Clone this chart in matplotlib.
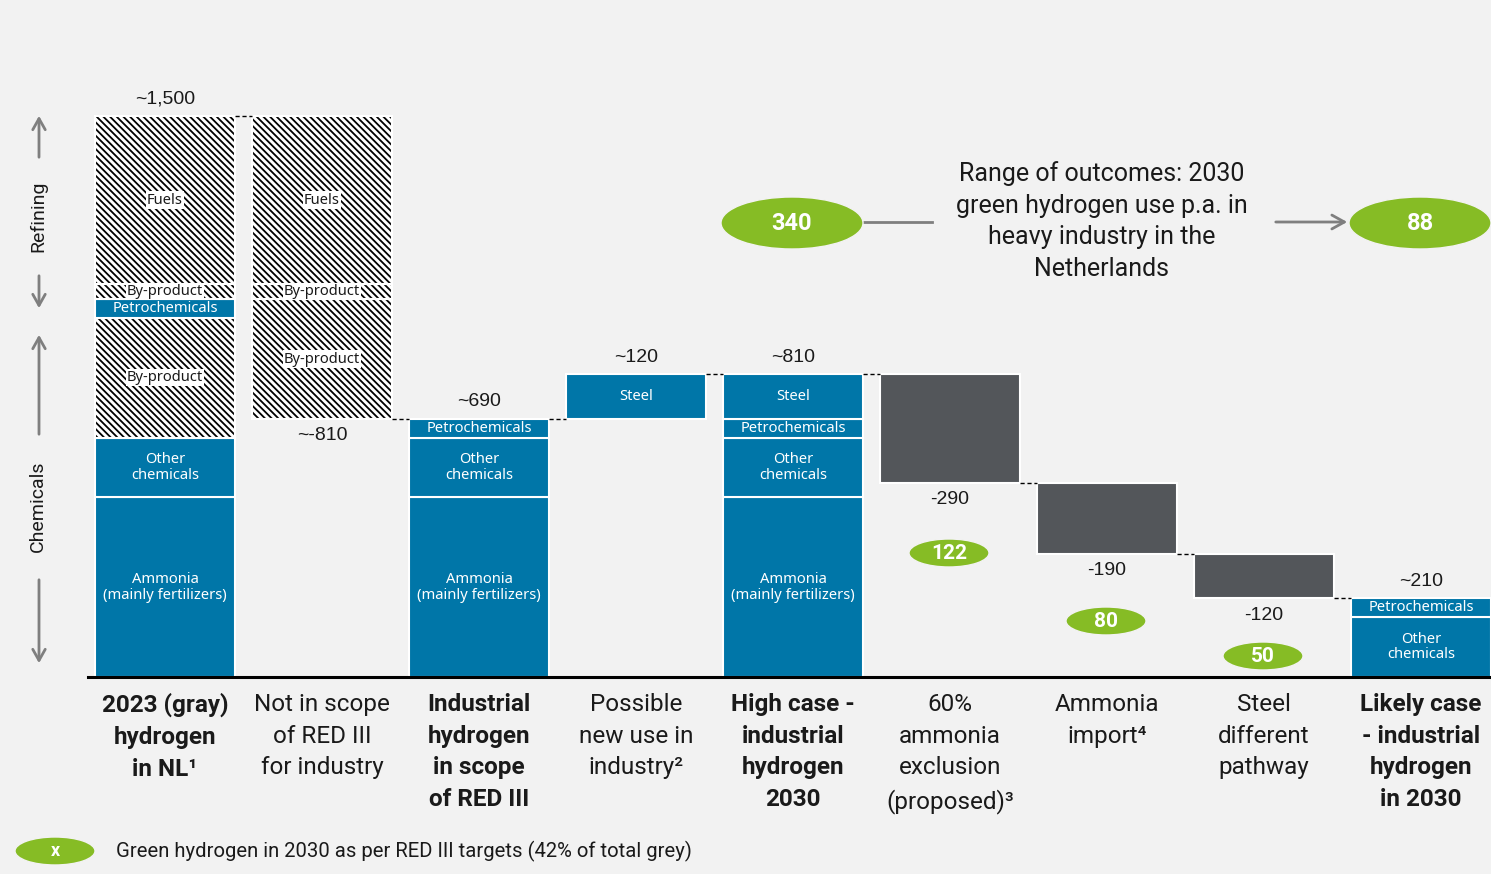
import matplotlib.pyplot as plt
from matplotlib.patches import Ellipse

plt.rcParams['hatch.linewidth'] = 1.3

BLUE = '#0076A8'
GREY = '#53565A'
GREEN = '#86BC25'
BG = '#F2F2F2'
TXT = '#1A1A1A'

categories = ['2023 (gray)\nhydrogen\nin NL¹', 'Not in scope\nof RED III\nfor industry',
              'Industrial\nhydrogen\nin scope\nof RED III', 'Possible\nnew use in\nindustry²',
              'High case -\nindustrial\nhydrogen\n2030', '60%\nammonia\nexclusion\n(proposed)³',
              'Ammonia\nimport⁴', 'Steel\ndifferent\npathway',
              'Likely case\n- industrial\nhydrogen\nin 2030']
bold_cat = [True, False, True, False, True, False, False, False, True]

# segments of every column, bottom to top
total_parts = ['Ammonia\n(mainly fertilizers)', 'Other\nchemicals', 'By-product', 'Petrochemicals', 'By-product', 'Fuels']
total_values = [480, 160, 320, 50, 40, 450]
total_hatch = [False, False, True, False, True, True]

notscope_parts = ['By-product', 'By-product', 'Fuels']
notscope_values = [320, 40, 450]

inscope_parts = ['Ammonia\n(mainly fertilizers)', 'Other\nchemicals', 'Petrochemicals']
inscope_values = [480, 160, 50]

newuse_parts = ['Steel']
newuse_values = [120]

high_parts = ['Ammonia\n(mainly fertilizers)', 'Other\nchemicals', 'Petrochemicals', 'Steel']
high_values = [480, 160, 50, 120]

cut_values = [-290, -190, -120]

likely_parts = ['Other\nchemicals', 'Petrochemicals']
likely_values = [160, 50]

value_labels = ['~1,500', '~-810', '~690', '~120', '~810', '-290', '-190', '-120', '~210']
green_values = [122, 80, 50]
range_values = [340, 88]

# pixel helpers (reference is 1491 x 874 px)
X0, DX, Y0, SY = 165, 157, 677, 0.374


def P(px, py):
    return (px - X0) / DX, (Y0 - py) / SY


fig = plt.figure(figsize=(14.91, 8.74), dpi=100, facecolor=BG)
ax = fig.add_axes([0, 0, 1, 1])
ax.set_facecolor(BG)
ax.set_xlim(P(0, 0)[0], P(1491, 0)[0])
ax.set_ylim(P(0, 874)[1], P(0, 0)[1])
ax.axis('off')

W = 0.89
seg_font = dict(family=['Noto Sans', 'DejaVu Sans'], fontsize=10.6, ha='center', va='center')


def stack(x, start, values, labels, hatched=None):
    bottom = start
    for i, (v, lab) in enumerate(zip(values, labels)):
        h = hatched[i] if hatched else False
        if h:
            ax.bar(x, v, W, bottom=bottom, color='white', edgecolor='black', linewidth=0, hatch='\\\\\\\\\\')
            ax.bar(x, v, W, bottom=bottom, fill=False, edgecolor='white', linewidth=1.5)
            ax.text(x, bottom + v / 2, lab, color=TXT, bbox=dict(facecolor='white', edgecolor='none', pad=0.8),
                    **seg_font)
        else:
            ax.bar(x, v, W, bottom=bottom, color=BLUE, edgecolor='white', linewidth=1.5)
            ax.text(x, bottom + v / 2, lab, color='white', linespacing=1.05, **seg_font)
        bottom += v
    return bottom


levels = []
top = stack(0, 0, total_values, total_parts, total_hatch)
levels.append(top)
low = top - sum(notscope_values)
stack(1, low, notscope_values, notscope_parts, [True] * 3)
levels.append(low)
top = stack(2, 0, inscope_values, inscope_parts)
levels.append(top)
top = stack(3, top, newuse_values, newuse_parts)
levels.append(top)
top = stack(4, 0, high_values, high_parts)
levels.append(top)
for i, v in enumerate(cut_values):
    ax.bar(5 + i, v, W, bottom=top, color=GREY, edgecolor='white', linewidth=1.5)
    top += v
    levels.append(top)
top = stack(8, 0, likely_values, likely_parts)

# connectors
for i, lev in enumerate(levels[:8]):
    ax.plot([i + W / 2, i + 1 - W / 2], [lev, lev], color='black', lw=1, ls=(0, (3, 2)))

# value labels
tops = [sum(total_values), 0, sum(inscope_values),
        sum(inscope_values) + sum(newuse_values), sum(high_values), 0, 0, 0, sum(likely_values)]
for i, lab in enumerate(value_labels):
    if i == 1 or 5 <= i <= 7:
        y, off = levels[i], -12.2
    else:
        y, off = tops[i], 12.2
    ax.annotate(lab, (i, y), xytext=(0, off), textcoords='offset points', ha='center', va='center',
                fontsize=14, family=['Liberation Sans', 'DejaVu Sans'], color=TXT)


def pill(cx, cy, w, h, text, size):
    x, y = P(cx, cy)
    ax.add_patch(Ellipse((x, y), w / DX, h / SY, facecolor=GREEN, edgecolor=BG, lw=1, zorder=5))
    ax.text(x, y - 1, text, ha='center', va='center', color='white', fontsize=size, fontweight='bold',
            family=['Roboto', 'DejaVu Sans'], zorder=6)


for i, (v, py) in enumerate(zip(green_values, [553, 621, 656])):
    pill(949 + 157 * i, py, 80, 28, str(v), 15)
pill(792, 223, 142, 52, str(range_values[0]), 17)
pill(1420, 223, 142, 52, str(range_values[1]), 17)
pill(55, 851, 80, 28, 'x', 13)

ax.text(*P(116, 851), 'Green hydrogen in 2030 as per RED III targets (42% of total grey)', ha='left',
        va='center', fontsize=14.6, color=TXT, family=['Roboto', 'DejaVu Sans'])

ax.text(*P(1102, 221), 'Range of outcomes: 2030\ngreen hydrogen use p.a. in\nheavy industry in the\nNetherlands',
        ha='center', va='center', fontsize=18, color=TXT, linespacing=1.41, family=['Roboto', 'DejaVu Sans'])
ax.plot(*zip(P(864, 222), P(932, 222)), color='#7F7F7F', lw=2)
ax.annotate('', xy=P(1350, 222), xytext=P(1273, 222),
            arrowprops=dict(arrowstyle='->,head_length=0.9,head_width=0.5', color='#7F7F7F', lw=2))

# baseline
ax.plot(*zip(P(88, 677), P(1491, 677)), color='black', lw=2.2)

# category labels
for i, c in enumerate(categories):
    ax.text(i, P(0, 693)[1], c, ha='center', va='top', fontsize=17.5, linespacing=1.48,
            fontweight='bold' if bold_cat[i] else 'normal', color=TXT, family=['Roboto', 'DejaVu Sans'])

# side labels with arrows
arrow = dict(arrowstyle='->,head_length=0.8,head_width=0.45', color='#7F7F7F', lw=2)
ax.annotate('', xy=P(39, 113), xytext=P(39, 160), arrowprops=arrow)
ax.annotate('', xy=P(39, 311), xytext=P(39, 273), arrowprops=arrow)
ax.annotate('', xy=P(39, 332), xytext=P(39, 437), arrowprops=arrow)
ax.annotate('', xy=P(39, 666), xytext=P(39, 577), arrowprops=arrow)
ax.text(*P(38, 216), 'Refining', rotation=90, ha='center', va='center', fontsize=14, color=TXT,
        family=['Roboto', 'DejaVu Sans'])
ax.text(*P(38, 506), 'Chemicals', rotation=90, ha='center', va='center', fontsize=14, color=TXT,
        family=['Roboto', 'DejaVu Sans'])

fig.savefig('out.png', dpi=100, facecolor=BG)
